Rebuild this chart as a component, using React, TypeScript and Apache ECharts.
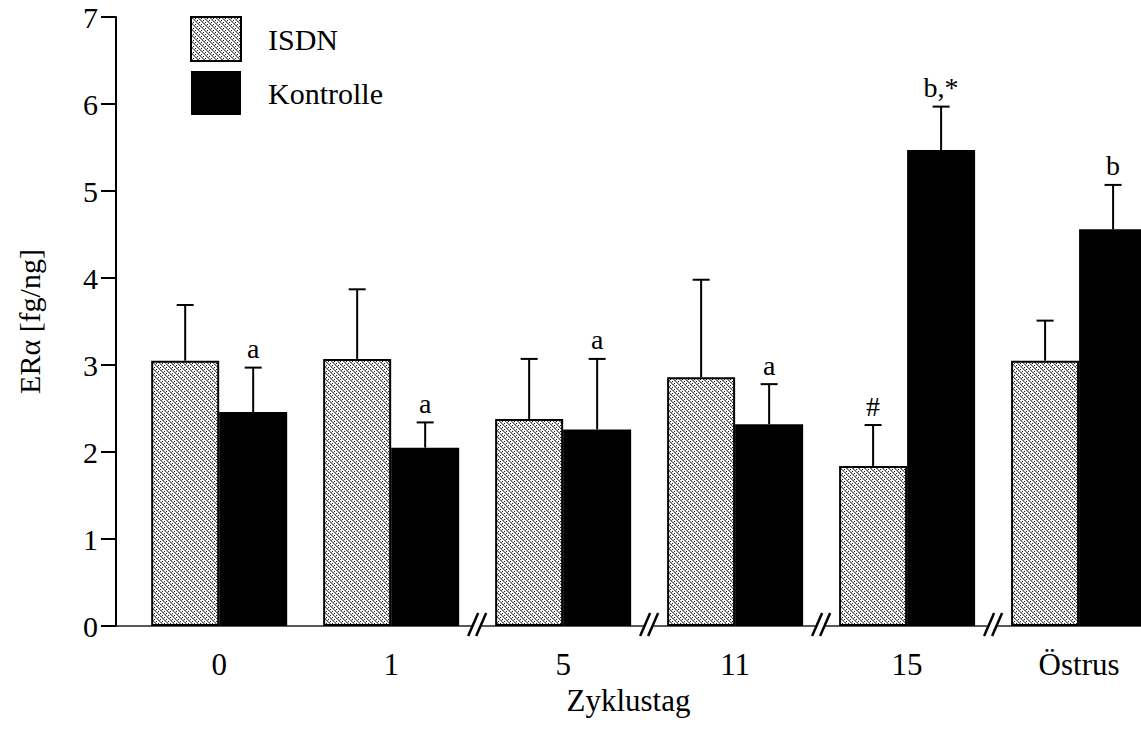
import React, { useEffect, useRef } from "react";
import * as echarts from "echarts";

// Cycle days (group labels on the x axis)
const categories = ["0", "1", "5", "11", "15", "Östrus"];

// ERα content [fg/ng], mean and upper error (SEM)
const isdnMean = [3.05, 3.07, 2.38, 2.86, 1.84, 3.05];
const isdnErr = [0.64, 0.8, 0.69, 1.12, 0.47, 0.46];
const ctrlMean = [2.46, 2.05, 2.26, 2.32, 5.47, 4.56];
const ctrlErr = [0.51, 0.29, 0.81, 0.46, 0.5, 0.51];

// Significance marks printed above the error bars
const isdnMarks = ["", "", "", "", "#", ""];
const ctrlMarks = ["a", "a", "a", "a", "b,*", "b"];

// Axis is interrupted after these group indices
const breakAfter = [1, 2, 3, 4];

const yTicks = [0, 1, 2, 3, 4, 5, 6, 7];

const FONT = "Liberation Serif";
const BAR_WIDTH = 68;

function makeHatch(): HTMLCanvasElement {
  const c = document.createElement("canvas");
  c.width = 6;
  c.height = 6;
  const ctx = c.getContext("2d")!;
  ctx.fillStyle = "#ffffff";
  ctx.fillRect(0, 0, 6, 6);
  for (let y = 0; y < 6; y++) {
    for (let x = 0; x < 6; x++) {
      const d = (((x - y) % 6) + 6) % 6;
      if (d === 0 || (d === 1 && y % 2 === 0)) {
        ctx.fillStyle = "#6e6e6e";
        ctx.fillRect(x, y, 1, 1);
      } else if (d === 1) {
        ctx.fillStyle = "#a8a8a8";
        ctx.fillRect(x, y, 1, 1);
      } else if (d === 3 && y % 2 === 1) {
        ctx.fillStyle = "#111111";
        ctx.fillRect(x, y, 1, 1);
      }
    }
  }
  return c;
}

function errorSeries(
  name: string,
  means: number[],
  errs: number[],
  marks: string[],
  shift: number
) {
  return {
    type: "custom",
    name,
    z: 4,
    silent: true,
    data: means.map((m, i) => [i, m, errs[i]]),
    renderItem: (params: any, api: any) => {
      const x = api.value(0);
      const m = api.value(1);
      const e = api.value(2);
      const base = api.coord([x, m]);
      const top = api.coord([x, m + e]);
      const cx = base[0] + shift;
      const children: any[] = [
        {
          type: "line",
          shape: { x1: cx, y1: base[1], x2: cx, y2: top[1] },
          style: { stroke: "#000", lineWidth: 2 },
        },
        {
          type: "line",
          shape: { x1: cx - 8.5, y1: top[1], x2: cx + 8.5, y2: top[1] },
          style: { stroke: "#000", lineWidth: 2 },
        },
      ];
      const mark = marks[params.dataIndex];
      if (mark) {
        children.push({
          type: "text",
          x: cx,
          y: top[1] - 5,
          style: {
            text: mark,
            fill: "#000",
            fontFamily: FONT,
            fontSize: 28,
            align: "center",
            verticalAlign: "bottom",
          },
        });
      }
      return { type: "group", children };
    },
  };
}

export default function App() {
  const ref = useRef<HTMLDivElement>(null);

  useEffect(() => {
    if (!ref.current) return;
    const chart = echarts.init(ref.current, undefined, { renderer: "svg" });
    const hatch = makeHatch();
    const hatchFill: any = {
      image: hatch,
      repeat: "repeat",
      imageWidth: 6,
      imageHeight: 6,
    };

    chart.setOption({
      animation: false,
      backgroundColor: "#ffffff",
      textStyle: { fontFamily: FONT, color: "#000" },
      grid: { left: 116, right: 0, top: 17, bottom: 112, containLabel: false },
      legend: {
        orient: "vertical",
        left: 185,
        top: 11,
        padding: 5,
        icon: "rect",
        itemWidth: 50,
        itemHeight: 44,
        itemGap: 9,
        selectedMode: false,
        data: ["ISDN", "Kontrolle"],
        textStyle: {
          fontFamily: FONT,
          fontSize: 30,
          color: "#000",
          padding: [0, 0, 0, 22],
        },
      },
      xAxis: {
        type: "value",
        min: -0.6,
        max: 5.36,
        name: "Zyklustag",
        nameLocation: "middle",
        nameGap: 58,
        nameTextStyle: { fontFamily: FONT, fontSize: 31, color: "#000" },
        axisLine: { show: true, onZero: true, lineStyle: { color: "#222", width: 1.5 } },
        axisTick: { show: false },
        splitLine: { show: false },
        axisLabel: {
          customValues: categories.map((_, i) => i),
          formatter: (v: number) => categories[Math.round(v)] ?? "",
          fontFamily: FONT,
          fontSize: 31,
          color: "#000",
          margin: 23,
        },
      },
      yAxis: {
        type: "value",
        min: yTicks[0],
        max: yTicks[yTicks.length - 1],
        interval: 1,
        name: "ERα [fg/ng]",
        nameLocation: "middle",
        nameGap: 72,
        nameTextStyle: { fontFamily: FONT, fontSize: 30, color: "#000" },
        axisLine: { show: true, onZero: false, lineStyle: { color: "#000", width: 2 } },
        axisTick: { show: true, length: 15, lineStyle: { color: "#000", width: 2 } },
        splitLine: { show: false },
        axisLabel: { fontFamily: FONT, fontSize: 30, color: "#000", margin: 18 },
      },
      series: [
        {
          type: "bar",
          name: "ISDN",
          barWidth: BAR_WIDTH,
          barGap: 0,
          z: 2,
          itemStyle: { color: hatchFill, borderColor: "#000", borderWidth: 2 },
          data: isdnMean.map((v, i) => [i, v]),
        },
        {
          type: "bar",
          name: "Kontrolle",
          barWidth: BAR_WIDTH,
          barGap: 0,
          z: 2,
          itemStyle: { color: "#000", borderColor: "#000", borderWidth: 0 },
          data: ctrlMean.map((v, i) => [i, v]),
        },
        errorSeries("ISDN-Fehler", isdnMean, isdnErr, isdnMarks, -BAR_WIDTH / 2),
        errorSeries("Kontrolle-Fehler", ctrlMean, ctrlErr, ctrlMarks, BAR_WIDTH / 2),
        {
          type: "custom",
          name: "Achsenbruch",
          z: 5,
          silent: true,
          data: breakAfter.map((i) => [i + 0.5, 0]),
          renderItem: (_params: any, api: any) => {
            const p = api.coord([api.value(0), 0]);
            const cx = p[0];
            const cy = p[1];
            return {
              type: "group",
              children: [
                {
                  type: "rect",
                  shape: { x: cx - 4, y: cy - 3, width: 8, height: 6 },
                  style: { fill: "#fff" },
                },
                {
                  type: "line",
                  shape: { x1: cx - 9, y1: cy + 10, x2: cx + 1, y2: cy - 13 },
                  style: { stroke: "#000", lineWidth: 2.5 },
                },
                {
                  type: "line",
                  shape: { x1: cx - 1, y1: cy + 10, x2: cx + 9, y2: cy - 13 },
                  style: { stroke: "#000", lineWidth: 2.5 },
                },
              ],
            };
          },
        },
      ],
    });

    return () => chart.dispose();
  }, []);

  return (
    <div
      ref={ref}
      style={{ position: "fixed", left: 0, top: 0, width: 1141, height: 738 }}
    />
  );
}
